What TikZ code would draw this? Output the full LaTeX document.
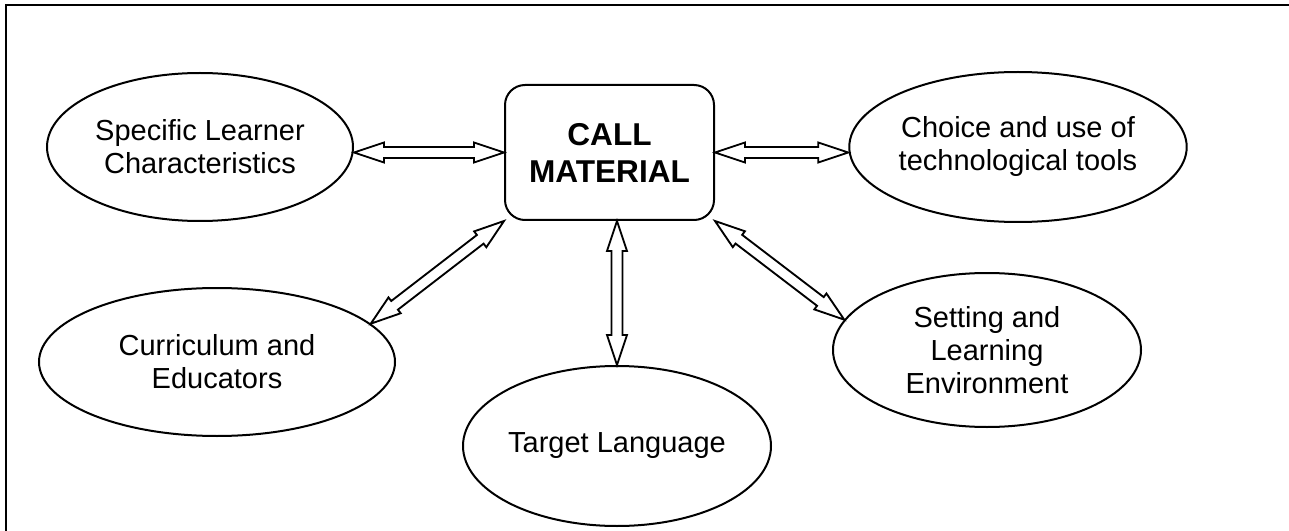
\documentclass[tikz,border=0pt]{standalone}
\usepackage{fontspec}
\setmainfont{Liberation Sans}
\usetikzlibrary{calc,shapes,positioning}

\tikzset{
  topic/.style={draw, ellipse, line width=1.5pt, inner sep=0pt, align=center,
    font=\fontsize{21.75}{24.75}\selectfont},
  hub/.style={draw, rectangle, rounded corners=15pt, line width=1.5pt, align=center,
    minimum width=156.75pt, minimum height=101.25pt,
    font=\fontsize{23.7}{27.75}\selectfont\bfseries},
  link/.style={line width=1.4pt, line join=miter, fill=white},
}

% hollow two-headed arrow from #1 to #2
\newcommand{\twoway}[2]{%
  \draw[link] (#1)
    -- ($(#1)!22.5pt!(#2)!7.5pt!90:(#2)$) -- ($(#1)!22.5pt!(#2)!4.1pt!90:(#2)$)
    -- ($(#2)!22.5pt!(#1)!4.1pt!-90:(#1)$) -- ($(#2)!22.5pt!(#1)!7.5pt!-90:(#1)$)
    -- (#2)
    -- ($(#2)!22.5pt!(#1)!7.5pt!90:(#1)$) -- ($(#2)!22.5pt!(#1)!4.1pt!90:(#1)$)
    -- ($(#1)!22.5pt!(#2)!4.1pt!-90:(#2)$) -- ($(#1)!22.5pt!(#2)!7.5pt!-90:(#2)$)
    -- cycle;}

\begin{document}
\begin{tikzpicture}[x=0.75pt,y=0.75pt,yscale=-1,xscale=1]
  \useasboundingbox (0,0) rectangle (1289,531);

  %Frame
  \draw [line width=2.2pt] (6,531) -- (6,5) -- (1289,5);

  %Centre box
  \node [hub] (call) at (609.5,152.5) {CALL\\MATERIAL};

  %Ellipses
  \node [topic, minimum width=229.5pt, minimum height=111pt] (learner) at (200,147) {Specific Learner\\Characteristics};
  \node [topic, minimum width=232.5pt, minimum height=112.5pt] (tools) at (1018,147) {Choice and use of\\technological tools};
  \node [topic, minimum width=267pt, minimum height=111pt] (curric) at (217,362) {Curriculum and\\Educators};
  \node [topic, minimum width=231pt, minimum height=120pt] (target) at (617,446) {Target Language};
  \node [topic, minimum width=231pt, minimum height=115.5pt] (setting) at (987,350) {Setting and\\Learning\\Environment};

  %Arrows
  \twoway{call.west -| learner.east}{call.west}
  \twoway{call.east}{call.east -| tools.west}
  \twoway{call.south west}{curric.14}
  \twoway{call.south -| target.north}{target.north}
  \twoway{call.south east}{setting.168}
\end{tikzpicture}
\end{document}
